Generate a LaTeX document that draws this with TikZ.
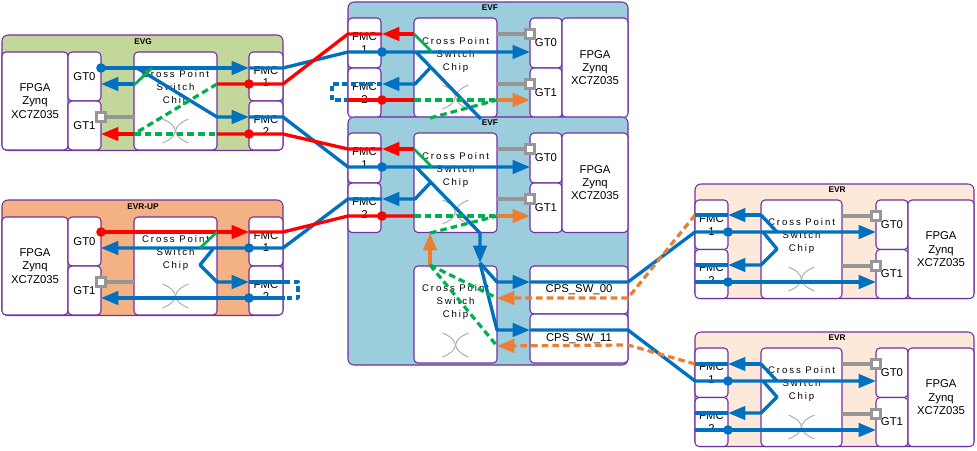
\documentclass[tikz,border=0pt]{standalone}
\usepackage{fontspec}
\setmainfont{Liberation Sans}
\newfontfamily\cpfont[LetterSpace=20]{Liberation Sans}
\usetikzlibrary{arrows.meta}
\definecolor{cblue}{RGB}{0,112,192}
\definecolor{cred}{RGB}{255,0,0}
\definecolor{cgreen}{RGB}{0,176,80}
\definecolor{corange}{RGB}{237,125,49}
\definecolor{cgray}{RGB}{150,150,150}
\definecolor{cpurple}{RGB}{112,48,160}
\definecolor{carc}{RGB}{170,170,170}
\definecolor{fEVG}{RGB}{196,215,155}
\definecolor{fEVRUP}{RGB}{244,177,131}
\definecolor{fEVF}{RGB}{155,205,220}
\definecolor{fEVR}{RGB}{252,233,218}
\tikzset{
  obox/.style={draw=cpurple, line width=0.8pt, rounded corners=4.5pt},
  wbox/.style={draw=cpurple, line width=0.8pt, rounded corners=3pt, fill=white, inner sep=0pt, align=center, font=\fontsize{8.5}{10}\selectfont},
  fmc/.style={font=\fontsize{8.5}{9.5}\selectfont},
  ttl/.style={font=\bfseries\fontsize{6.2}{7}\selectfont, inner sep=0pt},
  cpt/.style={align=center, inner sep=0pt, font=\cpfont\fontsize{7.2}{9.4}\selectfont},
  arcst/.style={draw=carc, line width=0.7pt},
  wire/.style={line width=2.5pt, line join=round},
  bl/.style={wire, draw=cblue},
  bld/.style={wire, draw=cblue, dash pattern=on 4pt off 2.5pt},
  rd/.style={wire, draw=cred},
  gs/.style={line width=2pt, draw=cgreen},
  gd/.style={line width=2.4pt, draw=cgreen, dash pattern=on 5pt off 3pt},
  oa/.style={wire, draw=corange},
  od/.style={line width=2.4pt, draw=corange, dash pattern=on 5pt off 3pt},
  arr/.style={-{Triangle[length=13pt,width=10pt]}},
  gline/.style={line width=2.4pt, draw=cgray},
  gsq/.style={draw=cgray, line width=2pt, fill=white, minimum size=7.2pt, inner sep=0pt},
}
\newcommand\bx[6][]{\node[wbox,#1, minimum width={(#5-#3)*0.75pt}, minimum height={(#6-#4)*0.75pt}] (#2) at ({(#3+#5)/2},{(#4+#6)/2}) {\strut};}
\newcommand\bxt[7][]{\node[wbox,#1, minimum width={(#5-#3)*0.75pt}, minimum height={(#6-#4)*0.75pt}] (#2) at ({(#3+#5)/2},{(#4+#6)/2}) {#7};}
\newcommand\xarcs[2]{%
  \draw[arcst] ({#1-13},{#2-12}) .. controls ({#1+4},{#2-5}) and ({#1+4},{#2+5}) .. ({#1-13},{#2+12});
  \draw[arcst] ({#1+13},{#2-12}) .. controls ({#1-4},{#2-5}) and ({#1-4},{#2+5}) .. ({#1+13},{#2+12});}
\newcommand\leftmod[4]{%
  \begin{scope}[shift={(0,#2)}]
  \draw[obox, fill=#3] (2,-17) rectangle (283,98.5);
  \node[ttl] (#1ttl) at (143,-10) {#4};
  \bxt{#1fpga}{2}{0}{68}{98}{FPGA\\Zynq\\XC7Z035}
  \bxt{#1gta}{68}{0}{101}{49}{GT0}
  \bxt{#1gtb}{68}{49}{101}{98}{GT1}
  \bx{#1cp}{134}{0}{217}{98}
  \bxt[fmc]{#1fa}{249}{0}{283}{49}{FMC\\1}
  \bxt[fmc]{#1fb}{249}{49}{283}{98}{FMC\\2}
  \node[cpt] (#1cpt) at (175.5,36) {Cross Point\\Switch\\Chip};
  \xarcs{175.5}{79}
  \end{scope}}
\newcommand\evfmod[3]{%
  \begin{scope}[shift={(0,#2)}]
  \draw[obox, fill=fEVF] (348,-16) rectangle (628,#3);
  \node[ttl] (#1ttl) at (490,-10) {EVF};
  \bxt[fmc]{#1fa}{348}{0}{381}{50}{FMC\\1}
  \bxt[fmc]{#1fb}{348}{50}{381}{99.5}{FMC\\2}
  \bx{#1cp}{414}{0}{497}{99.5}
  \bxt{#1gta}{530}{0}{562}{50}{GT0}
  \bxt{#1gtb}{530}{50}{562}{99.5}{GT1}
  \bxt{#1fpga}{562}{0}{628}{99.5}{FPGA\\Zynq\\XC7Z035}
  \node[cpt] (#1cpt) at (455.5,37) {Cross Point\\Switch\\Chip};
  \xarcs{455.5}{79}
  \end{scope}}
\newcommand\evrmod[2]{%
  \begin{scope}[shift={(0,#2)}]
  \draw[obox, fill=fEVR] (695,-16) rectangle (974,98.5);
  \node[ttl] (#1ttl) at (837,-10) {EVR};
  \bxt[fmc]{#1fa}{695}{0}{728}{49.5}{FMC\\1}
  \bxt[fmc]{#1fb}{695}{49.5}{728}{98.5}{FMC\\2}
  \bx{#1cp}{761}{0}{842}{98.5}
  \bxt{#1gta}{876}{0}{908}{49.5}{GT0}
  \bxt{#1gtb}{876}{49.5}{908}{98.5}{GT1}
  \bxt{#1fpga}{908}{0}{974}{98.5}{FPGA\\Zynq\\XC7Z035}
  \node[cpt] (#1cpt) at (801.5,36) {Cross Point\\Switch\\Chip};
  \xarcs{801.5}{79}
  \end{scope}}
\begin{document}
\begin{tikzpicture}[x=0.75pt,y=-0.75pt]
\useasboundingbox[fill=white] (0,0) rectangle (977,450);
% modules
\leftmod{g}{52}{fEVG}{EVG}
\leftmod{u}{217}{fEVRUP}{EVR-UP}
\evfmod{f}{18}{99.5}
\evfmod{h}{133}{232}
\bx{hcpb}{414}{266}{497}{363}
\bxt{sw0}{530}{266}{628}{314}{CPS\_SW\_00}
\bxt{sw1}{530}{314}{628}{363}{CPS\_SW\_11}
\node[cpt] (hcptb) at (455.5,302) {Cross Point\\Switch\\Chip};
\xarcs{455.5}{345}
\evrmod{r}{200}
\evrmod{s}{348}
% gray GT stubs
\draw[gline] (101,117) -- (134,117); \node[gsq] (gq1) at (101,117) {};
\draw[gline] (101,282) -- (134,282); \node[gsq] (uq1) at (101,282) {};
\draw[gline] (497,34) -- (530,34); \node[gsq] (fq0) at (530,34) {};
\draw[gline] (497,84) -- (530,84); \node[gsq] (fq1) at (530,84) {};
\draw[gline] (497,149) -- (530,149); \node[gsq] (hq0) at (530,149) {};
\draw[gline] (497,199) -- (530,199); \node[gsq] (hq1) at (530,199) {};
\draw[gline] (842,216) -- (876,216); \node[gsq] (rq0) at (876,216) {};
\draw[gline] (842,266) -- (876,266); \node[gsq] (rq1) at (876,266) {};
\draw[gline] (842,364) -- (876,364); \node[gsq] (sq0) at (876,364) {};
\draw[gline] (842,414) -- (876,414); \node[gsq] (sq1) at (876,414) {};
% EVG blue
\draw[bl,arr] (101,68) -- (249,68);
\draw[bl,arr] (249,68) -- (283,68) -- (348,52) -- (530,52);
\draw[bl,arr] (137,68) -- (217,117) -- (249,117);
\draw[bl,arr] (249,117) -- (283,117) -- (348,167) -- (530,167);
\draw[bl,arr] (134,84) -- (101,84);
\draw[gs] (134,85) -- (152,68);
% red EVF -> EVG
\draw[rd,arr] (414,34) -- (382,34);
\draw[rd] (382,34) -- (348,34) -- (283,84) -- (217,84);
\draw[gd] (217,84) -- (134,134);
\draw[rd,arr] (134,134) -- (101,134);
\draw[gd] (134,134) -- (217,134);
\draw[rd] (217,134) -- (283,134) -- (348,149) -- (382,149);
\draw[rd,arr] (414,149) -- (382,149);
\draw[gs] (414,34) -- (432,52);
\draw[gs] (414,149) -- (432,167);
% EVF top internals
\draw[bl] (416,52) -- (481,119);
\draw[bl,arr] (431,67) -- (415,84) -- (382,84);
\draw[bld] (382,84) -- (332,84) -- (332,100) -- (348,100);
\draw[rd] (348,100) -- (414,100);
\draw[gd] (414,100) -- (497,100);
\draw[oa,arr] (497,100) -- (530,100);
\draw[gd] (430,118) -- (497,100);
% EVF2 internals
\draw[bl,arr] (416,167) -- (480,233) -- (480,263);
\draw[bl,arr] (480,263) -- (497,282) -- (530,282);
\draw[bl,arr] (530,282) -- (628,282) -- (695,232) -- (876,232);
\draw[bl,arr] (480,263) -- (497,330) -- (530,330);
\draw[bl,arr] (530,330) -- (628,330) -- (695,381) -- (876,381);
\draw[bl,arr] (431,182) -- (415,199) -- (382,199);
\draw[bl,arr] (382,199) -- (348,199) -- (283,248) -- (101,248);
% EVR-UP red
\draw[rd,arr] (101,232) -- (249,232);
\draw[rd] (249,232) -- (283,232) -- (348,216) -- (414,216);
\draw[gd] (414,216) -- (497,216);
\draw[oa,arr] (497,216) -- (530,216);
\draw[gd] (430,233) -- (497,216);
\draw[oa,arr] (430,265) -- (430,233);
\draw[gd] (430,265) -- (497,298);
\draw[gd] (430,265) -- (497,346);
\draw[od,arr] (695,215) -- (628,298) -- (497,298);
\draw[od,arr] (695,364) -- (628,345) -- (497,346);
% EVR-UP blue
\draw[gs] (200,248) -- (217,232);
\draw[bl,arr] (213,249) -- (200,265) -- (217,282) -- (249,282);
\draw[bl] (249,282) -- (285,282);
\draw[bld] (285,282) -- (298,282) -- (298,298) -- (285,298);
\draw[bl,arr] (285,298) -- (101,298);
% EVR 1
\draw[bl,arr] (761,215) -- (728,215);
\draw[bl] (728,215) -- (695,215);
\draw[bl] (761,215) -- (777,232);
\draw[bl,arr] (763,232) -- (777,249) -- (761,265) -- (728,265);
\draw[bl] (728,265) -- (695,265);
\draw[bl,arr] (695,282) -- (876,282);
% EVR 2
\draw[bl,arr] (761,364) -- (728,364);
\draw[bl] (728,364) -- (695,364);
\draw[bl] (761,364) -- (777,381);
\draw[bl,arr] (763,381) -- (777,397) -- (761,413) -- (728,413);
\draw[bl] (728,413) -- (695,413);
\draw[bl,arr] (695,430) -- (876,430);
% dots
\foreach \p in {(101,68),(382,52),(382,167),(249,248),(249,298),(728,232),(728,282),(728,381),(728,430)}
  \fill[cblue] \p circle[radius=3.6pt];
\foreach \p in {(249,84),(249,134),(382,100),(382,216),(101,232)}
  \fill[cred] \p circle[radius=3.6pt];
\end{tikzpicture}
\end{document}
